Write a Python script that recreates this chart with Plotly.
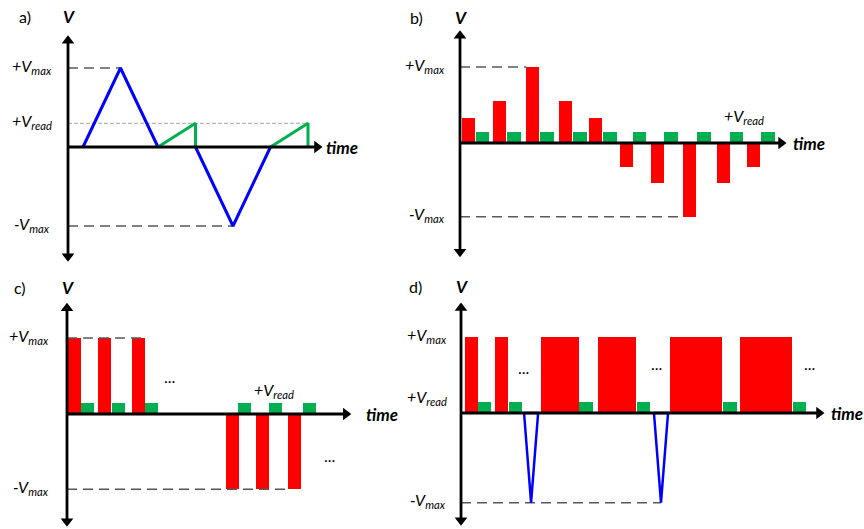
import plotly.graph_objects as go

W, H = 864, 529
FONT = "Lato"
RED, GREEN, BLUE = "#ff0000", "#00b050", "#0000ff"
DASH_DARK = "#595959"

# ---------------- data ----------------
VMAX = 1.0
VREAD_A = 0.30
VREAD = 0.145

# panel a : triangular sweeps (blue) and read ramps (green)
a_blue_t = [0.4, 1.4, 2.4, None, 3.4, 4.4, 5.4]
a_blue_v = [0, 1.0, 0, None, 0, -1.0, 0]
a_green_t = [2.4, 3.4, 3.4, None, 5.4, 6.4, 6.4]
a_green_v = [0, 0.30, 0, None, 0, 0.30, 0]

# panel b : incremental pulses (red) + read pulses (green)
b_red_t = [0.06, 1.04, 2.09, 3.13, 4.08, 5.06, 6.04, 7.06, 8.13, 9.08]
b_red_v = [0.33, 0.55, 1.0, 0.55, 0.33, -0.32, -0.53, -0.97, -0.53, -0.32]
b_red_w = 0.41
b_green_t = [0.5, 1.49, 2.53, 3.58, 4.53, 5.47, 6.46, 7.5, 8.54, 9.53]
b_green_v = [0.145] * 10
b_green_w = 0.43

# panel c : identical pulses
c_red_t = [0.03, 0.97, 2.03, 4.97, 5.91, 6.91]
c_red_v = [1.0, 1.0, 1.0, -0.99, -0.99, -0.99]
c_red_w = 0.4
c_green_t = [0.44, 1.41, 2.44, 5.34, 6.31, 7.37]
c_green_v = [0.145] * 6
c_green_w = 0.41

# panel d : increasing-width pulses + negative reset spikes
d_red_t = [0.125, 1.06, 2.5, 4.28, 6.53, 8.72]
d_red_v = [1.0] * 6
d_red_w = [0.41, 0.41, 1.19, 1.19, 1.63, 1.63]
d_green_t = [0.53, 1.5, 3.69, 5.5, 8.19, 10.37]
d_green_v = [0.14] * 6
d_green_w = 0.42
d_blue_t = [1.97, 2.19, 2.41, 1.97, None, 6.03, 6.25, 6.47, 6.03]
d_blue_v = [0, -1.18, 0, 0, None, 0, -1.18, 0, 0]

# ---------------- layout geometry (pixels) ----------------
panels = {
    "a": dict(ox=68, oy=147, sx=37.5, sy=79, box=(0, 390, 0, 268)),
    "b": dict(ox=460, oy=143, sx=31.6, sy=76, box=(385, 864, 0, 268)),
    "c": dict(ox=67, oy=414, sx=32, sy=76, box=(0, 405, 268, 529)),
    "d": dict(ox=461, oy=413, sx=32, sy=76, box=(395, 864, 268, 529)),
}
axis_ids = {"a": ("x", "y"), "b": ("x2", "y2"), "c": ("x3", "y3"), "d": ("x4", "y4")}

fig = go.Figure()
layout_axes = {}
for k, p in panels.items():
    x0, x1, y0, y1 = p["box"]
    xr = [(x0 - p["ox"]) / p["sx"], (x1 - p["ox"]) / p["sx"]]
    yr = [(p["oy"] - y1) / p["sy"], (p["oy"] - y0) / p["sy"]]
    xa, ya = axis_ids[k]
    xname = "xaxis" if xa == "x" else "xaxis" + xa[1:]
    yname = "yaxis" if ya == "y" else "yaxis" + ya[1:]
    layout_axes[xname] = dict(domain=[x0 / W, x1 / W], range=xr, visible=False,
                              anchor=ya, fixedrange=True)
    layout_axes[yname] = dict(domain=[1 - y1 / H, 1 - y0 / H], range=yr, visible=False,
                              anchor=xa, fixedrange=True)


def line(k, t, v, color, width, dash=None):
    xa, ya = axis_ids[k]
    fig.add_trace(go.Scatter(x=t, y=v, mode="lines", xaxis=xa, yaxis=ya,
                             line=dict(color=color, width=width, dash=dash),
                             showlegend=False, hoverinfo="skip", cliponaxis=False))


def bars(k, t, v, w, color):
    xa, ya = axis_ids[k]
    fig.add_trace(go.Bar(x=t, y=v, width=w, offset=0, xaxis=xa, yaxis=ya,
                         marker=dict(color=color, line=dict(width=0)),
                         showlegend=False, hoverinfo="skip"))


DASH = "10px,6px"
# ---- panel a
line("a", [0, a_blue_t[1]], [VMAX, VMAX], DASH_DARK, 1.5, DASH)
line("a", [0, a_green_t[-1]], [VREAD_A, VREAD_A], "#a6a6a6", 1, "4px,2px")
line("a", [0, a_blue_t[5]], [-VMAX, -VMAX], DASH_DARK, 1.5, DASH)
line("a", a_blue_t, a_blue_v, BLUE, 3)
line("a", a_green_t, a_green_v, GREEN, 3)

# ---- panel b
line("b", [0, b_red_t[2]], [b_red_v[2], b_red_v[2]], DASH_DARK, 1.5, DASH)
line("b", [0, b_red_t[7]], [b_red_v[7], b_red_v[7]], DASH_DARK, 1.5, DASH)
bars("b", b_red_t, b_red_v, b_red_w, RED)
bars("b", b_green_t, b_green_v, b_green_w, GREEN)

# ---- panel c
line("c", [0, c_red_t[2] + c_red_w], [VMAX, VMAX], DASH_DARK, 1.5, DASH)
line("c", [0, c_red_t[5]], [c_red_v[5], c_red_v[5]], DASH_DARK, 1.5, DASH)
bars("c", c_red_t, c_red_v, c_red_w, RED)
bars("c", c_green_t, c_green_v, c_green_w, GREEN)

# ---- panel d
line("d", [0, d_blue_t[6]], [d_blue_v[6], d_blue_v[6]], DASH_DARK, 1.5, DASH)
bars("d", d_red_t, d_red_v, d_red_w, RED)
bars("d", d_green_t, d_green_v, d_green_w, GREEN)
line("d", d_blue_t, d_blue_v, BLUE, 2.5)

# ---------------- axes arrows (lines + triangle heads) ----------------
arrow_ext = {  # y top, y bottom, x end (data units)
    "a": (1.42, -1.46, 6.8),
    "b": (1.49, -1.51, 10.35),
    "c": (1.47, -1.49, 8.9),
    "d": (1.46, -1.49, 11.375),
}
HEAD = 11          # marker size (px)
TIP = 6.0          # px from marker centre to tip
for k, (yt, yb, xe) in arrow_ext.items():
    p = panels[k]
    xa, ya = axis_ids[k]
    dy = TIP / p["sy"]
    dx = TIP / p["sx"]
    # vertical axis
    fig.add_trace(go.Scatter(x=[0, 0], y=[yb + dy, yt - dy], mode="lines", xaxis=xa, yaxis=ya,
                             line=dict(color="black", width=2.8), showlegend=False,
                             hoverinfo="skip", cliponaxis=False))
    fig.add_trace(go.Scatter(x=[0, 0], y=[yt - dy, yb + dy], mode="markers", xaxis=xa, yaxis=ya,
                             marker=dict(symbol=["triangle-up", "triangle-down"], size=HEAD,
                                         color="black", line=dict(width=0)),
                             showlegend=False, hoverinfo="skip", cliponaxis=False))
    # horizontal axis
    fig.add_trace(go.Scatter(x=[0, xe - dx], y=[0, 0], mode="lines", xaxis=xa, yaxis=ya,
                             line=dict(color="black", width=2.8), showlegend=False,
                             hoverinfo="skip", cliponaxis=False))
    fig.add_trace(go.Scatter(x=[xe - dx], y=[0], mode="markers", xaxis=xa, yaxis=ya,
                             marker=dict(symbol="triangle-right", size=HEAD, color="black",
                                         line=dict(width=0)),
                             showlegend=False, hoverinfo="skip", cliponaxis=False))

# ---------------- text ----------------
ann = []
lab_font = dict(family=FONT, size=16, color="black")
big_font = dict(family=FONT, size=17, color="black")


def text(k, x, y, s, font, xanchor="center", xshift=0, yshift=0):
    xa, ya = axis_ids[k]
    ann.append(dict(x=x, y=y, xref=xa, yref=ya, text=s, showarrow=False, font=font,
                    xanchor=xanchor, yanchor="middle", xshift=xshift, yshift=yshift))


VMAX_T = "<i>+V<sub>max</sub></i>"
VMIN_T = "<i>-V<sub>max</sub></i>"
VREAD_T = "<i>+V<sub>read</sub></i>"
TIME_T = "<b><i>time</i></b>"
V_T = "<b><i>V</i></b>"

tops = {"a": 1.65, "b": 1.65, "c": 1.66, "d": 1.66}
letters = {"a": ("a)", -43), "b": ("b)", -44), "c": ("c)", -47), "d": ("d)", -46)}
for k in panels:
    ytop = tops[k]
    s, dxs = letters[k]
    text(k, 0, ytop, s, dict(family=FONT, size=16, color="black"), xshift=dxs)
    text(k, 0, ytop, V_T, big_font, xshift=1)

# panel a
text("a", 0, VMAX, VMAX_T, lab_font, "right", -14, 2)
text("a", 0, VREAD_A, VREAD_T, lab_font, "right", -14, 2)
text("a", 0, -VMAX, VMIN_T, lab_font, "right", -16, 2)
text("a", arrow_ext["a"][2], 0, TIME_T, big_font, "left", 1)
# panel b
text("b", 0, b_red_v[2], VMAX_T, lab_font, "right", -13, 2)
text("b", 0, b_red_v[7], VMIN_T, lab_font, "right", -13, 2)
text("b", b_green_t[8] + 0.45, VREAD + 0.2, VREAD_T, lab_font)
text("b", arrow_ext["b"][2], 0, TIME_T, big_font, "left", 4)
# panel c
text("c", 0, VMAX, VMAX_T, lab_font, "right", -16, 2)
text("c", 0, c_red_v[5], VMIN_T, lab_font, "right", -16, 2)
text("c", c_green_t[4] + 0.15, VREAD + 0.17, VREAD_T, lab_font)
text("c", arrow_ext["c"][2], 0, TIME_T, big_font, "left", 12)
text("c", 3.2, 0.5, "...", lab_font)
text("c", 8.2, -0.55, "...", lab_font)
# panel d
text("d", 0, VMAX, VMAX_T, lab_font, "right", -12, 2)
text("d", 0, VREAD, VREAD_T, lab_font, "right", -12, 4)
text("d", 0, d_blue_v[6], VMIN_T, lab_font, "right", -13, 2)
text("d", arrow_ext["d"][2], 0, TIME_T, big_font, "left", 4)
text("d", 1.95, 0.6, "...", lab_font)
text("d", 6.1, 0.65, "...", lab_font)
text("d", 10.9, 0.65, "...", lab_font)

fig.update_layout(width=W, height=H, margin=dict(l=0, r=0, t=0, b=0),
                  paper_bgcolor="white", plot_bgcolor="rgba(0,0,0,0)",
                  barmode="overlay", bargap=0, annotations=ann, showlegend=False,
                  **layout_axes)
fig.write_html("out.html")
